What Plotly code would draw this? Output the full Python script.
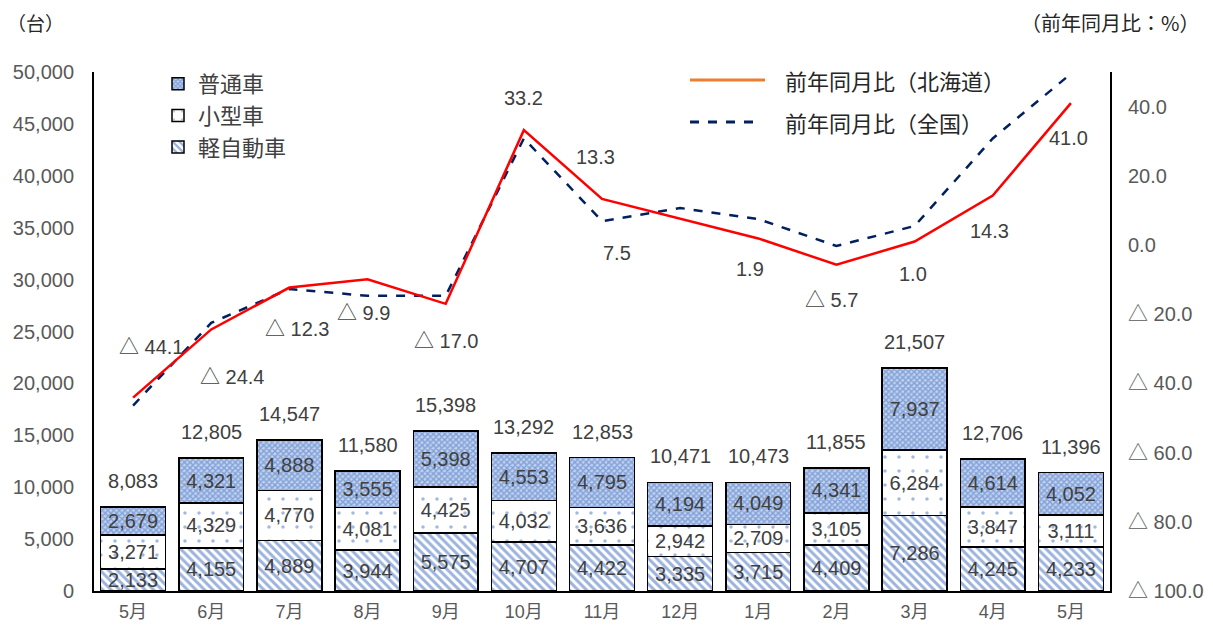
import plotly.graph_objects as go

months = ["5月", "6月", "7月", "8月", "9月", "10月", "11月", "12月", "1月", "2月", "3月", "4月", "5月"]
kei = [2133, 4155, 4889, 3944, 5575, 4707, 4422, 3335, 3715, 4409, 7286, 4245, 4233]
kogata = [3271, 4329, 4770, 4081, 4425, 4032, 3636, 2942, 2709, 3105, 6284, 3847, 3111]
futsu = [2679, 4321, 4888, 3555, 5398, 4553, 4795, 4194, 4049, 4341, 7937, 4614, 4052]
totals = [8083, 12805, 14547, 11580, 15398, 13292, 12853, 10471, 10473, 11855, 21507, 12706, 11396]
yoy_hokkaido = [-44.1, -24.4, -12.3, -9.9, -17.0, 33.2, 13.3, 7.5, 1.9, -5.7, 1.0, 14.3, 41.0]
yoy_national = [-46.4, -22.5, -12.7, -14.7, -14.7, 30.8, 6.9, 10.7, 7.5, -0.3, 5.5, 30.8, 49.5]
right_ticks = [-100, -80, -60, -40, -20, 0, 20, 40]

# label offsets (px) for Hokkaido line labels
label_shift = [(18, 51), (21, -48), (8, -41), (-4, -34), (0, -37), (0, 32), (-7, 42),
               (-63, -34), (-8, -31), (-5, -35), (-2, -32), (-3, -35), (-2, -35)]

FONT = "Liberation Sans, Noto Sans CJK JP"
CJK = "Noto Sans CJK JP"
GRAY = "#404040"
TICK = "#595959"
BLUE = "#4472C4"

xs = list(range(len(months)))

def fmt(v):
    return f"{v:,}"

def fmt_pct(v):
    return f"△ {abs(v):.1f}" if v < 0 else f"{v:.1f}"

fig = go.Figure()

bar_common = dict(width=0.83, textposition="inside", insidetextanchor="middle",
                  textfont=dict(size=20, color=GRAY, family=FONT), hoverinfo="skip")

fig.add_trace(go.Bar(
    x=xs, y=kei, name="軽自動車", text=[fmt(v) for v in kei],
    marker=dict(color="white", line=dict(color="black", width=1.5),
                pattern=dict(shape="\\", fgcolor="#3A68BE", bgcolor="white", size=6, solidity=0.5)),
    legendrank=3, **bar_common))
fig.add_trace(go.Bar(
    x=xs, y=kogata, name="小型車", text=[fmt(v) for v in kogata],
    marker=dict(color="white", line=dict(color="black", width=1.5),
                pattern=dict(shape=".", fgcolor=BLUE, bgcolor="white", size=14, solidity=0.05)),
    legendrank=2, **bar_common))
fig.add_trace(go.Bar(
    x=xs, y=futsu, name="普通車", text=[fmt(v) for v in futsu],
    marker=dict(color="white", line=dict(color="black", width=1.5),
                pattern=dict(shape="x", fgcolor="#3F6DC2", bgcolor="#C2D3EE", size=4, solidity=0.6)),
    legendrank=1, **bar_common))

fig.add_trace(go.Scatter(
    x=xs, y=yoy_national, yaxis="y2", mode="lines", name="前年同月比（全国）",
    line=dict(color="#002060", width=2.5, dash="dash"), showlegend=False, hoverinfo="skip"))
fig.add_trace(go.Scatter(
    x=xs, y=yoy_hokkaido, yaxis="y2", mode="lines", name="前年同月比（北海道）",
    line=dict(color="#FF0000", width=2.5), showlegend=False, hoverinfo="skip"))

ann = []
for i, v in enumerate(totals):
    ann.append(dict(x=i, y=v, xref="x", yref="y", text=fmt(v), showarrow=False,
                    yanchor="middle", yshift=26, font=dict(size=20, color=GRAY, family=FONT)))
for i, v in enumerate(yoy_hokkaido):
    dx, dy = label_shift[i]
    ann.append(dict(x=i, y=v, xref="x", yref="y2", text=fmt_pct(v), showarrow=False,
                    xshift=dx, yshift=dy, font=dict(size=20, color=GRAY, family=FONT)))

px_x = lambda p: (p - 94) / 1016
px_y = lambda p: (591 - p) / 519

ann += [
    dict(x=px_x(35), y=px_y(22), xref="paper", yref="paper", xanchor="center", yanchor="middle",
         text="（台）", showarrow=False, font=dict(size=19, color="#262626", family=CJK)),
    dict(x=px_x(1201), y=px_y(22), xref="paper", yref="paper", xanchor="right", yanchor="middle",
         text="（前年同月比：%）", showarrow=False, font=dict(size=20, color="#262626", family=CJK)),
    dict(x=px_x(783), y=px_y(80), xref="paper", yref="paper", xanchor="left", yanchor="middle",
         text="前年同月比（北海道）", showarrow=False, font=dict(size=22, color="#262626", family=CJK)),
    dict(x=px_x(783), y=px_y(122), xref="paper", yref="paper", xanchor="left", yanchor="middle",
         text="前年同月比（全国）", showarrow=False, font=dict(size=22, color="#262626", family=CJK)),
]

shapes = [
    dict(type="line", xref="paper", yref="paper", x0=px_x(690), x1=px_x(765), y0=px_y(80), y1=px_y(80),
         line=dict(color="#ED7D31", width=3)),
    dict(type="line", xref="paper", yref="paper", x0=px_x(690), x1=px_x(755), y0=px_y(122), y1=px_y(122),
         line=dict(color="#002060", width=3, dash="dash")),
]

fig.update_layout(
    width=1197, height=614,
    margin=dict(l=86, r=95, t=64, b=31, autoexpand=False),
    paper_bgcolor="white", plot_bgcolor="white",
    barmode="stack",
    font=dict(family=FONT, color=TICK),
    uniformtext=dict(minsize=20, mode="show"),
    xaxis=dict(range=[-0.5, 12.5], tickvals=xs, ticktext=months, showline=True,
               linecolor="black", linewidth=2, showgrid=False, zeroline=False, automargin=False,
               ticks="outside", ticklen=3, tickcolor="rgba(0,0,0,0)",
               tickfont=dict(size=18, color=TICK, family=FONT)),
    yaxis=dict(range=[0, 50000], dtick=5000, tickformat=",", showline=True,
               linecolor="black", linewidth=2, showgrid=False, zeroline=False, automargin=False,
               ticks="outside", ticklen=14, tickcolor="rgba(0,0,0,0)",
               tickfont=dict(size=20, color=TICK, family=FONT)),
    yaxis2=dict(range=[-100, 50], overlaying="y", side="right", tickvals=right_ticks,
                ticktext=[fmt_pct(v) for v in right_ticks], showline=True, automargin=False,
                linecolor="black", linewidth=2, showgrid=False, zeroline=False,
                ticks="outside", ticklen=12, tickcolor="rgba(0,0,0,0)",
                tickfont=dict(size=20, color=TICK, family=FONT)),
    legend=dict(x=px_x(158), y=px_y(63), xanchor="left", yanchor="top", traceorder="normal",
                bgcolor="rgba(0,0,0,0)", font=dict(size=22, color=GRAY, family=CJK),
                itemwidth=30, tracegroupgap=0),
    showlegend=True,
    annotations=ann,
    shapes=shapes,
)

fig.write_html("out.html")
